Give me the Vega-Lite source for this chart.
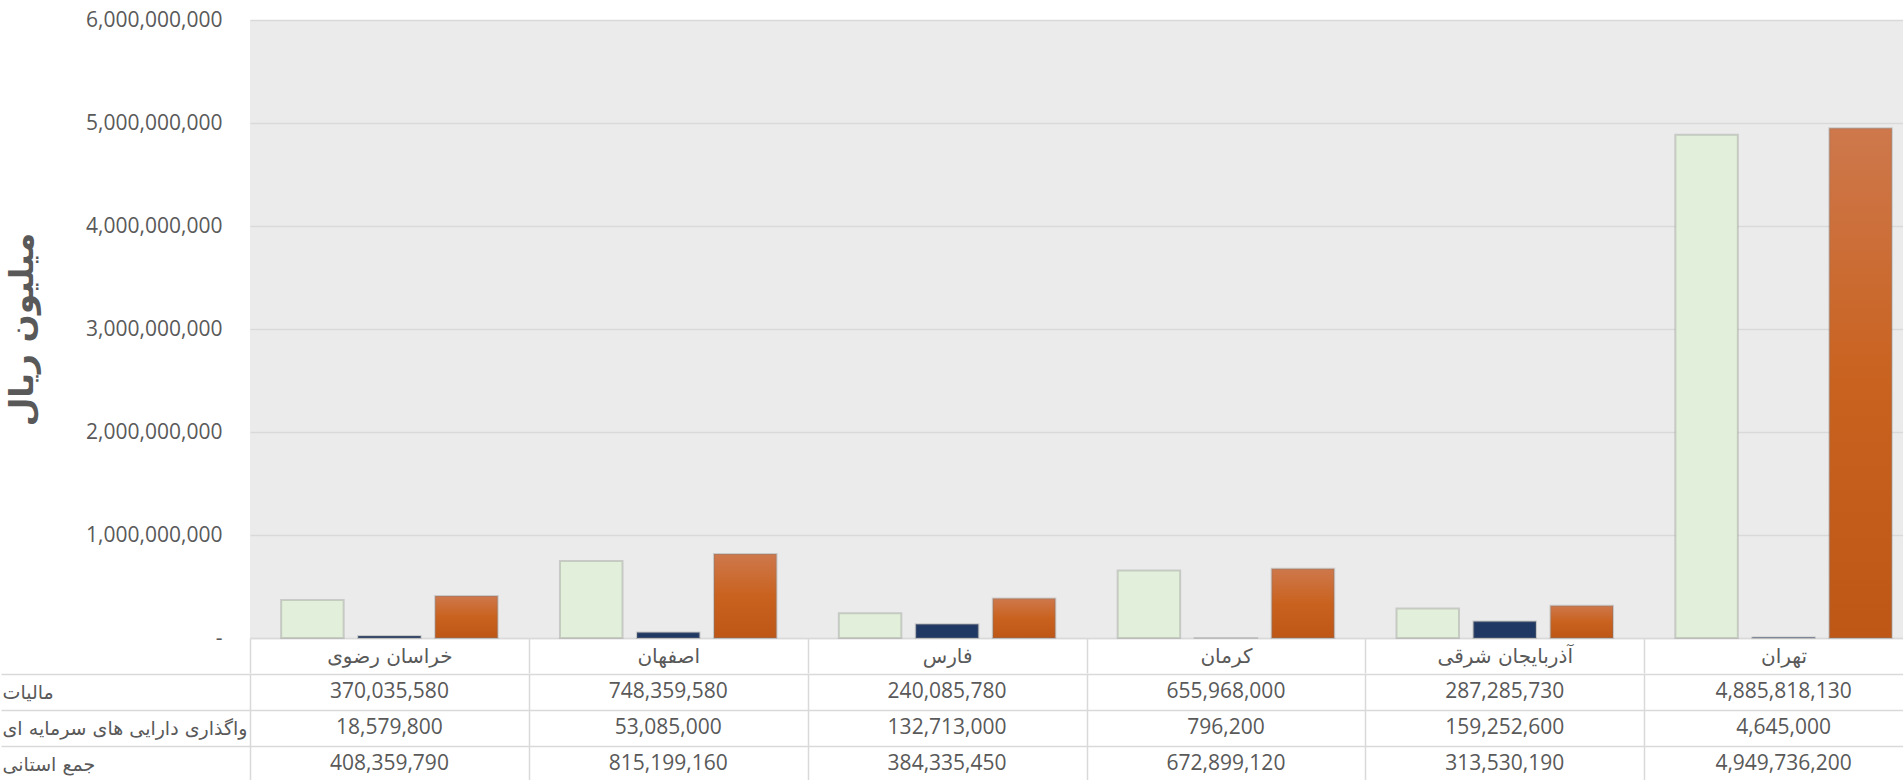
{
  "$schema": "https://vega.github.io/schema/vega-lite/v6.json",
  "padding": {"left": 0, "top": 9, "right": 0, "bottom": 0},
  "background": "white",
  "spacing": -9,
  "config": {
    "view": {"stroke": null},
    "font": "Open Sans, DejaVu Sans",
    "axis": {"minExtent": 0}
  },
  "datasets": {
    "vals": [
      {"province": "خراسان رضوی", "series": "مالیات", "value": 370035580},
      {"province": "خراسان رضوی", "series": "واگذاری دارایی های سرمایه ای", "value": 18579800},
      {"province": "خراسان رضوی", "series": "جمع استانی", "value": 408359790},
      {"province": "اصفهان", "series": "مالیات", "value": 748359580},
      {"province": "اصفهان", "series": "واگذاری دارایی های سرمایه ای", "value": 53085000},
      {"province": "اصفهان", "series": "جمع استانی", "value": 815199160},
      {"province": "فارس", "series": "مالیات", "value": 240085780},
      {"province": "فارس", "series": "واگذاری دارایی های سرمایه ای", "value": 132713000},
      {"province": "فارس", "series": "جمع استانی", "value": 384335450},
      {"province": "کرمان", "series": "مالیات", "value": 655968000},
      {"province": "کرمان", "series": "واگذاری دارایی های سرمایه ای", "value": 796200},
      {"province": "کرمان", "series": "جمع استانی", "value": 672899120},
      {"province": "آذربایجان شرقی", "series": "مالیات", "value": 287285730},
      {"province": "آذربایجان شرقی", "series": "واگذاری دارایی های سرمایه ای", "value": 159252600},
      {"province": "آذربایجان شرقی", "series": "جمع استانی", "value": 313530190},
      {"province": "تهران", "series": "مالیات", "value": 4885818130},
      {"province": "تهران", "series": "واگذاری دارایی های سرمایه ای", "value": 4645000},
      {"province": "تهران", "series": "جمع استانی", "value": 4949736200}
    ]
  },
  "vconcat": [
    {
      "width": 1673,
      "height": 618,
      "view": {"fill": "#EBEBEB", "stroke": null},
      "data": {"name": "vals"},
      "mark": {"type": "bar", "stroke": "#7A7A7A", "strokeWidth": 2, "strokeOpacity": 0.3},
      "encoding": {
        "x": {
          "field": "province", "type": "nominal",
          "sort": ["خراسان رضوی", "اصفهان", "فارس", "کرمان", "آذربایجان شرقی", "تهران"],
          "scale": {"paddingInner": 0, "paddingOuter": 0},
          "title": null,
          "axis": {
            "orient": "bottom", "domain": true, "domainColor": "#D9D9D9", "domainWidth": 1.5,
            "ticks": true, "tickBand": "extent", "tickSize": 35, "tickColor": "#D9D9D9", "tickWidth": 1.5,
            "labelAngle": 0, "labelBaseline": "middle", "labelPadding": -17,
            "labelFont": "DejaVu Sans", "labelFontSize": 20, "labelColor": "#595959",
            "labelOverlap": false, "labelBound": false, "grid": false
          }
        },
        "xOffset": {
          "field": "series", "type": "nominal",
          "sort": ["مالیات", "واگذاری دارایی های سرمایه ای", "جمع استانی"],
          "scale": {"domain": ["مالیات", "واگذاری دارایی های سرمایه ای", "جمع استانی"], "paddingInner": 0.188, "paddingOuter": 0.4045}
        },
        "y": {
          "field": "value", "type": "quantitative",
          "scale": {"domain": [0, 6000000000], "nice": false},
          "title": "میلیون ریال",
          "axis": {
            "values": [0, 1000000000, 2000000000, 3000000000, 4000000000, 5000000000, 6000000000],
            "grid": true, "gridColor": "#D9D9D9", "gridWidth": 1.5,
            "domain": false, "ticks": false, "labelPadding": 28,
            "labelFontSize": 21, "labelColor": "#595959", "labelFont": "Open Sans, DejaVu Sans",
            "labelExpr": "datum.value < 1 ? '-\u2007' : datum.label",
            "titleFont": "DejaVu Sans", "titleFontSize": 33, "titleFontWeight": "bold",
            "titleColor": "#595959", "titlePadding": 46
          }
        },
        "color": {
          "condition": {
            "test": "datum.series === 'جمع استانی'",
            "value": {
              "gradient": "linear", "x1": 0, "y1": 0, "x2": 0, "y2": 1,
              "stops": [
                {"offset": 0, "color": "#CE784C"},
                {"offset": 0.5, "color": "#C9621F"},
                {"offset": 1, "color": "#BE5616"}
              ]
            }
          },
          "field": "series", "type": "nominal",
          "scale": {"domain": ["مالیات", "واگذاری دارایی های سرمایه ای", "جمع استانی"], "range": ["#E2EFDA", "#203864", "#C9621F"]},
          "legend": null
        }
      }
    },
    {
      "width": 1673,
      "height": 108,
      "data": {"name": "vals"},
      "mark": {"type": "text", "fontSize": 21, "color": "#595959", "font": "Open Sans", "baseline": "middle"},
      "encoding": {
        "x": {
          "field": "province", "type": "nominal",
          "sort": ["خراسان رضوی", "اصفهان", "فارس", "کرمان", "آذربایجان شرقی", "تهران"],
          "scale": {"paddingInner": 0, "paddingOuter": 0},
          "title": null,
          "axis": {"orient": "bottom", "labels": false, "ticks": false, "domain": false, "grid": true, "tickBand": "extent", "gridColor": "#D9D9D9", "gridWidth": 1.5}
        },
        "y": {
          "field": "series", "type": "nominal",
          "sort": ["مالیات", "واگذاری دارایی های سرمایه ای", "جمع استانی"],
          "scale": {"paddingInner": 0, "paddingOuter": 0},
          "title": null,
          "axis": {
            "domain": false, "grid": true, "tickBand": "extent", "gridColor": "#D9D9D9", "gridWidth": 1.5,
            "ticks": true, "tickSize": 249, "tickColor": "#D9D9D9", "tickWidth": 1.5,
            "labelAlign": "left", "labelPadding": -1, "labelBaseline": "middle",
            "labelFont": "DejaVu Sans", "labelFontSize": 19, "labelColor": "#595959",
            "labelLimit": 0
          }
        },
        "text": {"field": "value", "type": "quantitative", "format": ","}
      }
    }
  ]
}
